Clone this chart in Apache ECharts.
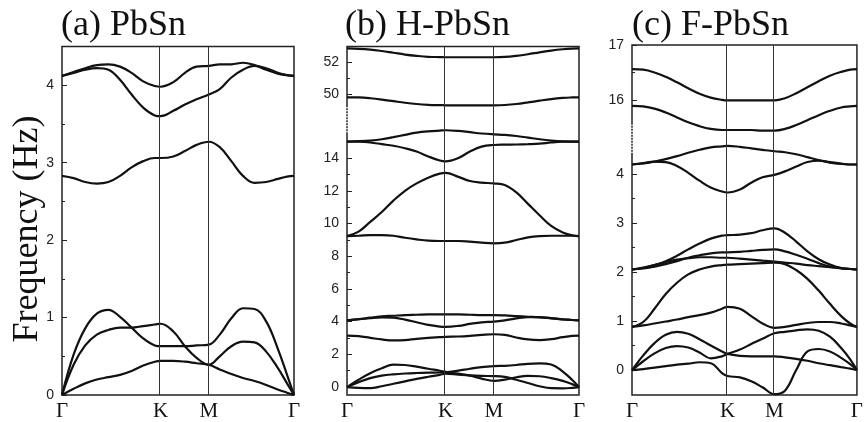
<!DOCTYPE html>
<html>
<head>
<meta charset="utf-8">
<script src="https://cdn.jsdelivr.net/npm/echarts@6/dist/echarts.min.js"></script>
<style>
  html, body { margin: 0; padding: 0; background: #fff; }
  #chart { width: 866px; height: 422px; }
</style>
</head>
<body>
<div id="chart"></div>
<script>
// path coordinate along Γ-K-M-Γ (0..1)
const kx = [0, 0.05, 0.1, 0.15, 0.2, 0.25, 0.3, 0.35, 0.4, 0.425, 0.48, 0.53, 0.58, 0.633, 0.68, 0.73, 0.78, 0.83, 0.88, 0.93, 0.97, 1]
const kTicks = [0, 0.425, 0.633, 1]
const kNames = ['Γ', 'K', 'M', 'Γ']

// (a) PbSn
const aBand1 = [0, 0.08, 0.15, 0.2, 0.23, 0.26, 0.31, 0.38, 0.43, 0.44, 0.44, 0.43, 0.41, 0.39, 0.33, 0.27, 0.22, 0.18, 0.13, 0.07, 0.03, 0]
const aBand2 = [0, 0.39, 0.64, 0.78, 0.84, 0.87, 0.87, 0.89, 0.91, 0.92, 0.82, 0.63, 0.48, 0.39, 0.5, 0.63, 0.69, 0.68, 0.56, 0.35, 0.15, 0]
const aBand3 = [0, 0.52, 0.86, 1.05, 1.1, 1.01, 0.87, 0.73, 0.64, 0.63, 0.63, 0.63, 0.64, 0.65, 0.78, 0.99, 1.12, 1.11, 0.95, 0.6, 0.26, 0]
const aBand4 = [2.83, 2.8, 2.75, 2.73, 2.75, 2.83, 2.94, 3.02, 3.06, 3.06, 3.08, 3.15, 3.23, 3.27, 3.2, 3.02, 2.83, 2.74, 2.75, 2.79, 2.82, 2.83]
const aBand5 = [4.12, 4.16, 4.2, 4.22, 4.2, 4.07, 3.88, 3.71, 3.61, 3.6, 3.67, 3.75, 3.82, 3.88, 3.95, 4.1, 4.2, 4.25, 4.22, 4.16, 4.13, 4.12]
const aBand6 = [4.12, 4.17, 4.22, 4.26, 4.27, 4.24, 4.16, 4.05, 3.99, 3.98, 4.04, 4.16, 4.24, 4.25, 4.27, 4.27, 4.29, 4.26, 4.2, 4.15, 4.13, 4.12]
const aTicks = [0, 1, 2, 3, 4]
const aMinor = [0.5, 1.5, 2.5, 3.5]

// (b) H-PbSn
const bBand1 = [0, 0.45, 0.85, 1.15, 1.37, 1.35, 1.25, 1.12, 1.0, 0.93, 0.82, 0.7, 0.52, 0.38, 0.45, 0.6, 0.68, 0.66, 0.55, 0.38, 0.18, 0]
const bBand2 = [0, 0.3, 0.55, 0.7, 0.78, 0.83, 0.86, 0.88, 0.89, 0.9, 1.0, 1.12, 1.22, 1.28, 1.3, 1.35, 1.42, 1.45, 1.38, 0.95, 0.45, 0]
const bBand3 = [0, -0.05, -0.07, 0.05, 0.2, 0.35, 0.5, 0.63, 0.75, 0.82, 0.76, 0.71, 0.68, 0.67, 0.62, 0.45, 0.25, 0.05, -0.07, -0.08, -0.05, 0]
const bBand4 = [3.15, 3.11, 3.01, 2.91, 2.85, 2.87, 2.95, 3.01, 3.05, 3.07, 3.09, 3.13, 3.19, 3.23, 3.19, 3.03, 2.91, 2.87, 2.93, 3.05, 3.13, 3.15]
const bBand5 = [4.08, 4.16, 4.22, 4.26, 4.24, 4.12, 3.96, 3.8, 3.7, 3.68, 3.74, 3.86, 3.96, 4.0, 4.08, 4.2, 4.28, 4.28, 4.22, 4.14, 4.1, 4.08]
const bBand6 = [4.08, 4.14, 4.24, 4.32, 4.36, 4.4, 4.42, 4.44, 4.44, 4.44, 4.44, 4.42, 4.4, 4.4, 4.38, 4.34, 4.3, 4.26, 4.2, 4.14, 4.1, 4.08]
const bBand7 = [9.23, 9.25, 9.29, 9.29, 9.25, 9.13, 9.03, 8.95, 8.93, 8.93, 8.93, 8.89, 8.83, 8.79, 8.83, 8.99, 9.15, 9.23, 9.25, 9.25, 9.25, 9.23]
const bBand8 = [9.23, 9.5, 10.1, 10.7, 11.4, 12.0, 12.45, 12.8, 13.05, 13.1, 12.85, 12.6, 12.5, 12.45, 12.35, 11.9, 11.2, 10.5, 9.85, 9.45, 9.28, 9.23]
const bBand9 = [15.01, 15.0, 14.95, 14.85, 14.75, 14.6, 14.4, 14.1, 13.85, 13.8, 14.0, 14.4, 14.7, 14.8, 14.82, 14.83, 14.85, 14.88, 14.95, 15.0, 15.01, 15.01]
const bBand10 = [15.01, 15.03, 15.07, 15.15, 15.28, 15.42, 15.55, 15.63, 15.68, 15.7, 15.66, 15.58, 15.5, 15.45, 15.42, 15.35, 15.25, 15.15, 15.07, 15.02, 15.01, 15.01]
const bBand11 = [49.79, 49.78, 49.73, 49.65, 49.55, 49.45, 49.37, 49.32, 49.3, 49.29, 49.29, 49.29, 49.29, 49.29, 49.31, 49.37, 49.47, 49.58, 49.68, 49.75, 49.78, 49.79]
const bBand12 = [52.84, 52.82, 52.77, 52.68, 52.57, 52.46, 52.38, 52.32, 52.3, 52.29, 52.29, 52.29, 52.29, 52.29, 52.31, 52.38, 52.48, 52.6, 52.71, 52.79, 52.83, 52.84]
const bTicks = [0, 2, 4, 6, 8, 10, 12, 14, 50, 52]
const bMinor = [1, 3, 5, 7, 9, 11, 13, 15, 51]

// (c) F-PbSn
const cBand1 = [0, 0.3, 0.55, 0.72, 0.78, 0.74, 0.63, 0.5, 0.38, 0.33, 0.29, 0.28, 0.28, 0.28, 0.26, 0.23, 0.19, 0.14, 0.1, 0.06, 0.03, 0]
const cBand2 = [0, 0.18, 0.34, 0.45, 0.49, 0.46, 0.36, 0.24, 0.28, 0.33, 0.42, 0.53, 0.64, 0.75, 0.78, 0.81, 0.83, 0.8, 0.68, 0.45, 0.22, 0]
const cBand3 = [0, 0.02, 0.05, 0.08, 0.11, 0.13, 0.16, 0.14, -0.06, -0.12, -0.15, -0.23, -0.35, -0.49, -0.42, 0.0, 0.38, 0.43, 0.38, 0.25, 0.12, 0]
const cBand4 = [0.88, 0.91, 0.95, 0.99, 1.03, 1.08, 1.12, 1.17, 1.25, 1.29, 1.25, 1.1, 0.95, 0.86, 0.88, 0.92, 0.96, 0.98, 0.98, 0.95, 0.91, 0.88]
const cBand5 = [0.88, 0.98, 1.25, 1.55, 1.78, 1.95, 2.05, 2.11, 2.14, 2.15, 2.16, 2.17, 2.18, 2.19, 2.16, 2.04, 1.86, 1.62, 1.35, 1.1, 0.95, 0.88]
const cBand6 = [2.05, 2.09, 2.14, 2.2, 2.25, 2.28, 2.3, 2.3, 2.29, 2.29, 2.27, 2.25, 2.23, 2.21, 2.19, 2.17, 2.14, 2.12, 2.1, 2.08, 2.06, 2.05]
const cBand7 = [2.05, 2.07, 2.11, 2.16, 2.22, 2.29, 2.34, 2.38, 2.4, 2.4, 2.41, 2.43, 2.45, 2.46, 2.42, 2.35, 2.27, 2.18, 2.11, 2.07, 2.06, 2.05]
const cBand8 = [2.05, 2.08, 2.14, 2.22, 2.33, 2.46, 2.58, 2.68, 2.74, 2.75, 2.76, 2.79, 2.85, 2.89, 2.8, 2.62, 2.42, 2.26, 2.15, 2.08, 2.06, 2.05]
const cBand9 = [4.19, 4.22, 4.25, 4.24, 4.16, 4.02, 3.86, 3.72, 3.64, 3.62, 3.68, 3.82, 3.93, 3.98, 4.05, 4.15, 4.24, 4.27, 4.24, 4.21, 4.19, 4.19]
const cBand10 = [4.19, 4.21, 4.25, 4.3, 4.36, 4.43, 4.49, 4.54, 4.56, 4.57, 4.55, 4.52, 4.49, 4.46, 4.44, 4.4, 4.34, 4.28, 4.23, 4.2, 4.19, 4.19]
const cBand11 = [15.89, 15.88, 15.84, 15.77, 15.68, 15.59, 15.52, 15.47, 15.45, 15.45, 15.45, 15.45, 15.44, 15.44, 15.47, 15.54, 15.63, 15.72, 15.8, 15.86, 15.88, 15.89]
const cBand12 = [16.56, 16.55, 16.5, 16.42, 16.32, 16.21, 16.11, 16.04, 16.0, 15.99, 15.99, 15.99, 15.99, 15.99, 16.03, 16.12, 16.23, 16.34, 16.44, 16.51, 16.55, 16.56]
const cTicks = [0, 1, 2, 3, 4, 16, 17]
const cMinor = [0.5, 1.5, 2.5, 3.5, 16.5]

// broken axes: map real frequency to the drawn (linear) coordinate
const toA = v => v
const toB = v => (v < 30 ? v : 17.92 + (v - 50) * 0.979)
const toC = v => (v < 10 ? v : 5.508 + (v - 16) * 1.118)

const serif = '"Liberation Serif", "Times New Roman", serif'
const sans = '"Liberation Sans", Arial, sans-serif'

const chart = echarts.init(document.getElementById('chart'))

const grids = [
  { left: 62, top: 46.5, width: 232, height: 350.5 },
  { left: 347, top: 46.5, width: 232, height: 351.5 },
  { left: 632, top: 45, width: 233, height: 351 }
].map(g => Object.assign(g, { show: true, borderColor: '#222', borderWidth: 1.5, backgroundColor: 'transparent' }))

const xAxes = [0, 1, 2].map(i => ({
  gridIndex: i,
  type: 'value',
  min: 0,
  max: 1,
  axisLine: { show: false },
  axisTick: { show: false },
  splitLine: { show: false },
  axisLabel: {
    customValues: kTicks,
    margin: 6,
    color: '#111',
    fontSize: 21,
    fontFamily: serif,
    formatter: v => {
      let best = 0
      kTicks.forEach((t, j) => { if (Math.abs(t - v) < Math.abs(kTicks[best] - v)) best = j })
      return kNames[best]
    }
  }
}))

function yAxesFor(g, min, max, ticks, minor, toD) {
  const major = ticks.map(toD)
  return [
    {
      gridIndex: g, type: 'value', min, max, position: 'left',
      axisLine: { show: false },
      splitLine: { show: false },
      axisTick: { inside: true, length: 5, customValues: major, lineStyle: { color: '#222', width: 1 } },
      axisLabel: {
        customValues: major,
        margin: 8,
        color: '#222',
        fontSize: 14,
        fontFamily: sans,
        formatter: v => {
          let best = 0
          major.forEach((m, j) => { if (Math.abs(m - v) < Math.abs(major[best] - v)) best = j })
          return String(ticks[best])
        }
      }
    },
    {
      gridIndex: g, type: 'value', min, max, position: 'left', offset: 0,
      axisLine: { show: false },
      splitLine: { show: false },
      axisLabel: { show: false },
      axisTick: { inside: true, length: 3, customValues: minor.map(toD), lineStyle: { color: '#222', width: 1 } }
    }
  ]
}

const yAxes = [].concat(
  yAxesFor(0, 0, 4.5, aTicks, aMinor, toA),
  yAxesFor(1, -0.485, 20.82, bTicks, bMinor, toB),
  yAxesFor(2, -0.508, 6.626, cTicks, cMinor, toC)
)

const panels = [
  { bands: [aBand1, aBand2, aBand3, aBand4, aBand5, aBand6], toD: toA, y: 0 },
  { bands: [bBand1, bBand2, bBand3, bBand4, bBand5, bBand6, bBand7, bBand8, bBand9, bBand10, bBand11, bBand12], toD: toB, y: 2 },
  { bands: [cBand1, cBand2, cBand3, cBand4, cBand5, cBand6, cBand7, cBand8, cBand9, cBand10, cBand11, cBand12], toD: toC, y: 4 }
]

const series = []
panels.forEach((p, i) => {
  p.bands.forEach((band, j) => {
    const s = {
      type: 'line',
      xAxisIndex: i,
      yAxisIndex: p.y,
      data: kx.map((x, n) => [x, p.toD(band[n])]),
      smooth: 0.4,
      symbol: 'none',
      silent: true,
      lineStyle: { color: '#111', width: 2.2 }
    }
    if (j === 0) {
      s.markLine = {
        silent: true,
        symbol: ['none', 'none'],
        label: { show: false },
        lineStyle: { color: '#333', width: 1, type: 'solid' },
        data: [{ xAxis: kTicks[1] }, { xAxis: kTicks[2] }]
      }
    }
    series.push(s)
  })
})

// dotted marks for the axis breaks
const breaks = [
  { x: 1, y: 2, from: 15.58, to: 17.15 },
  { x: 2, y: 4, from: 4.43, to: 5.04 }
]
breaks.forEach(b => {
  series.push({
    type: 'line',
    xAxisIndex: b.x,
    yAxisIndex: b.y,
    data: [[0, b.from], [0, b.to]],
    symbol: 'none',
    silent: true,
    clip: false,
    z: 10,
    lineStyle: { color: '#fff', width: 2.5, type: [1, 2] }
  })
})

const titleStyle = { fontFamily: serif, fontSize: 36, fontWeight: 'normal', color: '#111' }

chart.setOption({
  animation: false,
  backgroundColor: '#fff',
  title: [
    { text: '(a) PbSn', left: 61, top: 8, padding: 0, textStyle: titleStyle },
    { text: '(b) H-PbSn', left: 345, top: 8, padding: 0, textStyle: titleStyle },
    { text: '(c) F-PbSn', left: 632, top: 8, padding: 0, textStyle: titleStyle }
  ],
  graphic: [{
    type: 'text',
    x: 28,
    y: 229,
    rotation: Math.PI / 2,
    style: { text: 'Frequency (Hz)', font: '36px ' + serif, fill: '#111', textAlign: 'center', textVerticalAlign: 'middle' }
  }],
  grid: grids,
  xAxis: xAxes,
  yAxis: yAxes,
  series
})
</script>
</body>
</html>
